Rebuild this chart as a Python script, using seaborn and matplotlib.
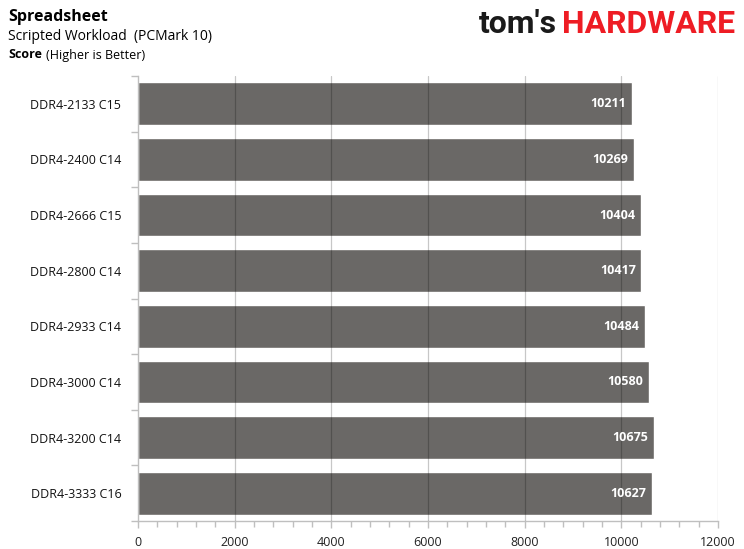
import matplotlib
matplotlib.use("Agg")
import matplotlib.pyplot as plt
from matplotlib.ticker import MultipleLocator, FixedLocator
import seaborn as sns
import pandas as pd

# values
modules = ["DDR4-2133 C15", "DDR4-2400 C14", "DDR4-2666 C15", "DDR4-2800 C14",
           "DDR4-2933 C14", "DDR4-3000 C14", "DDR4-3200 C14", "DDR4-3333 C16"]
scores = [10211, 10269, 10404, 10417, 10484, 10580, 10675, 10627]
x_ticks = [0, 2000, 4000, 6000, 8000, 10000, 12000]

df = pd.DataFrame({"module": modules, "score": scores})

sns.set_theme(style="white")
plt.rcParams["font.family"] = ["Open Sans", "DejaVu Sans"]

fig = plt.figure(figsize=(7.44, 5.49), dpi=100)
ax = fig.add_axes([138 / 744, 1 - 521 / 549, 580 / 744, 445 / 549])

sns.barplot(data=df, x="score", y="module", orient="h", color="#6a6866",
            saturation=1, width=0.77, ax=ax, zorder=2)

ax.set_xlim(0, 12000)
ax.set_ylim(len(modules) - 0.5, -0.5)
ax.set_xticks(x_ticks)
ax.set_xticklabels([str(t) for t in x_ticks], fontsize=9, color="#222222")
ax.xaxis.set_minor_locator(MultipleLocator(400))
ax.set_xlabel("")
ax.set_ylabel("")

# gridlines drawn over the bars, semi transparent
for t in x_ticks[1:]:
    ax.axvline(t, color="black", alpha=0.22, lw=0.9, zorder=3)

# y ticks at category boundaries
ax.tick_params(axis="y", which="major", length=0, labelsize=9, pad=12,
               labelcolor="#111111")
ax.yaxis.set_minor_locator(FixedLocator([i - 0.5 for i in range(len(modules) + 1)]))
ax.tick_params(axis="y", which="minor", length=5, color="#bfbfbf", width=1, left=True)
ax.tick_params(axis="x", which="major", length=5, color="#bfbfbf", width=1,
               bottom=True, pad=6)
ax.tick_params(axis="x", which="minor", length=4, color="#bfbfbf", width=1,
               bottom=True)

for side in ["top", "right"]:
    ax.spines[side].set_visible(False)
for side in ["left", "bottom"]:
    ax.spines[side].set_color("#bfbfbf")
    ax.spines[side].set_linewidth(1)

# value labels inside the bar ends
for i, v in enumerate(scores):
    ax.text(v - 120, i, str(v), ha="right", va="center", color="white",
            fontsize=9, fontweight="bold", zorder=4)

# header
fig.text(8 / 744, 1 - 17 / 549, "Spreadsheet", fontsize=11.5, fontweight="bold",
         va="center", color="black")
fig.text(8 / 744, 1 - 37 / 549, "Scripted Workload  (PCMark 10)", fontsize=10,
         va="center", color="black")
fig.text(8 / 744, 1 - 55 / 549, "Score", fontsize=9, fontweight="bold",
         va="center", color="black")
fig.text(46 / 744, 1 - 55 / 549, "(Higher is Better)", fontsize=9,
         va="center", color="black")

# logo
fig.text(557 / 744, 1 - 24 / 549, "tom's", fontsize=23, fontweight="bold",
         va="center", ha="right", color="#1a1a1a", family=["Roboto", "DejaVu Sans"])
fig.text(735 / 744, 1 - 24 / 549, "HARDWARE", fontsize=23, fontweight="bold",
         va="center", ha="right", color="#ee1c24", family=["Roboto", "DejaVu Sans"])

fig.savefig("out.png", dpi=100)
